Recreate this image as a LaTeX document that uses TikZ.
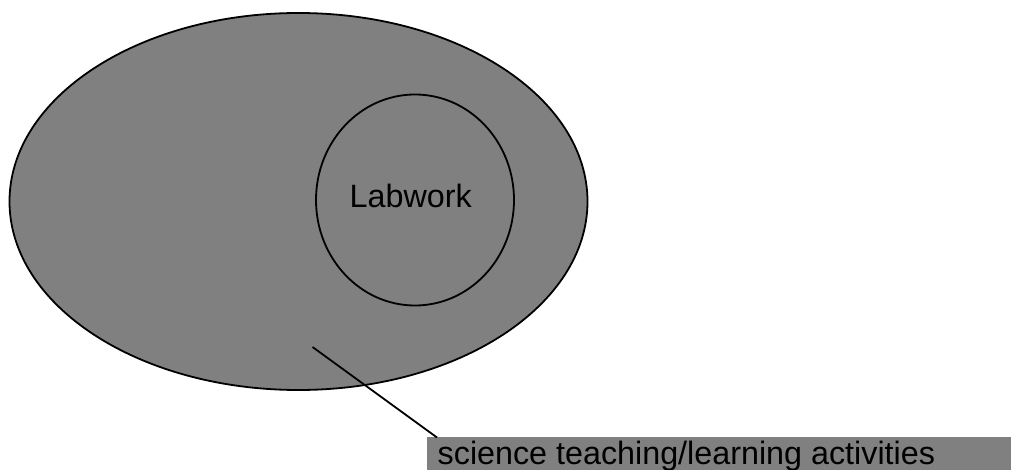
\documentclass[tikz,border=0pt]{standalone}
\usepackage{fontspec}
\setmainfont{Liberation Sans}
\begin{document}
\begin{tikzpicture}[x=1pt,y=-1pt,
  outline/.style={draw=black,line width=1.8pt},
  region/.style={outline,fill=gray},
  labelbox/.style={fill=gray,draw=none,inner sep=0pt,anchor=north west,minimum width=584pt,minimum height=33pt},
  labeltext/.style={font=\fontsize{32.3pt}{38pt}\selectfont,inner sep=0pt},
  leader/.style={draw=black,line width=1.8pt}]
\useasboundingbox (0,0) rectangle (1016,470);
\fill[white] (0,0) rectangle (1016,470);
\draw[region] (298.5,201.5) ellipse [x radius=289pt, y radius=188.5pt];
\draw[outline] (415,200) ellipse [x radius=99pt, y radius=105.5pt];
\node[labeltext,anchor=base] (lab) at (410.7,208) {Labwork};
\node[labelbox] (box) at (427,437) {};
\node[labeltext,anchor=base west] (boxtext) at (437.5,464) {science teaching/learning activities};
\coordinate (tip) at (312.5,347);
\coordinate (join) at (437,437.5);
\draw[leader] (tip) -- (join);
\end{tikzpicture}
\end{document}
